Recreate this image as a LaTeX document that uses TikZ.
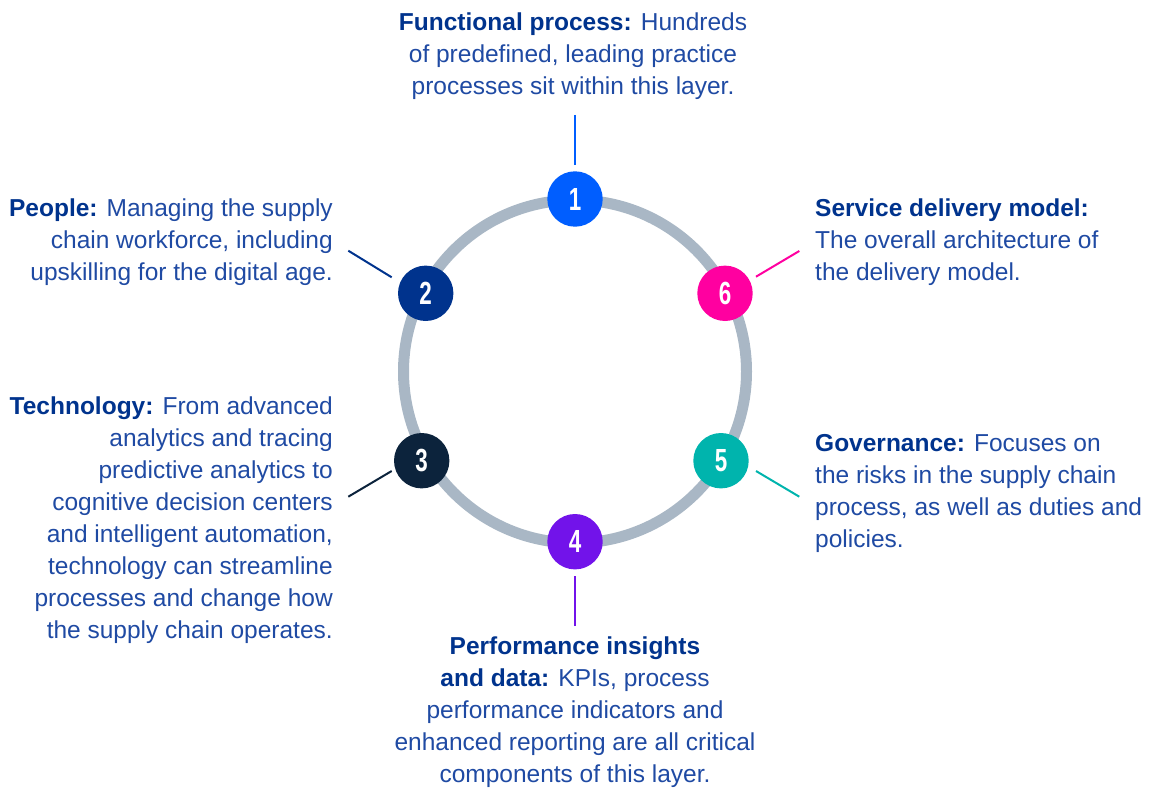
\documentclass[tikz,border=0pt]{standalone}
\usepackage{fontspec}
\usepackage{graphicx}
\setmainfont{Liberation Sans}
\definecolor{txt}{HTML}{1F4AA3}
\definecolor{bld}{HTML}{00338D}
\definecolor{ringc}{HTML}{A9B7C5}
\definecolor{cA}{HTML}{005EFF}
\definecolor{cB}{HTML}{00338D}
\definecolor{cC}{HTML}{0C233C}
\definecolor{cD}{HTML}{7213EA}
\definecolor{cE}{HTML}{00B4AD}
\definecolor{cF}{HTML}{FF00A0}
\tikzset{
  num/.style={circle, fill=#1, minimum size=55.4pt, inner sep=0pt, text=white,
    font=\fontsize{32}{32}\selectfont\bfseries},
  desc/.style={inner sep=0pt, text=txt, font=\fontsize{24.5}{32}\selectfont},
  lead/.style={draw=#1, line width=2pt},
}
\newcommand{\nm}[1]{\scalebox{0.7}[1]{#1}}
\newcommand{\hd}[1]{\textcolor{bld}{\textbf{#1}}}
\begin{document}
\begin{tikzpicture}[x=1pt,y=-1pt]
\useasboundingbox (0,0) rectangle (1153,789);
\draw[ringc, line width=11pt] (575,371.5) circle (171.5pt);
\node[num=cA] (n1) at (575,199) {\nm{1}};
\node[num=cB] (n2) at (425.7,293.3) {\nm{2}};
\node[num=cC] (n3) at (421.7,460.7) {\nm{3}};
\node[num=cD] (n4) at (575,541.7) {\nm{4}};
\node[num=cE] (n5) at (721,460.7) {\nm{5}};
\node[num=cF] (n6) at (725,293.3) {\nm{6}};
% leader end coordinates
\coordinate (a1) at (575,115); \coordinate (b1) at (575,165);
\coordinate (a2) at (348.3,250.7); \coordinate (b2) at (391.7,277.3);
\coordinate (a3) at (348.3,496.7); \coordinate (b3) at (391.7,471);
\coordinate (a4) at (575,626); \coordinate (b4) at (575,576);
\coordinate (a5) at (799.3,496.7); \coordinate (b5) at (756,471);
\coordinate (a6) at (799.3,251); \coordinate (b6) at (756,276.7);
\draw[lead=cA] (a1) -- (b1);
\draw[lead=cB] (a2) -- (b2);
\draw[lead=cC] (a3) -- (b3);
\draw[lead=cD] (a4) -- (b4);
\draw[lead=cE] (a5) -- (b5);
\draw[lead=cF] (a6) -- (b6);
% texts (base anchor = baseline of last line)
\node[desc, align=center, anchor=base] (t1) at (573,95)
  {\hd{Functional process:} Hundreds\\of predefined, leading practice\\processes sit within this layer.};
\node[desc, align=right, anchor=base east] (t2) at (333,280.7)
  {\hd{People:} Managing the supply\\chain workforce, including\\upskilling for the digital age.};
\node[desc, align=right, anchor=base east] (t3) at (333,638.5)
  {\hd{Technology:} From advanced\\analytics and tracing\\predictive analytics to\\cognitive decision centers\\and intelligent automation,\\technology can streamline\\processes and change how\\the supply chain operates.};
\node[desc, align=center, anchor=base] (t4) at (575,782)
  {\hd{Performance insights}\\\hd{and data:} KPIs, process\\performance indicators and\\enhanced reporting are all critical\\components of this layer.};
\node[desc, align=left, anchor=base west] (t5) at (815,547.7)
  {\hd{Governance:} Focuses on\\the risks in the supply chain\\process, as well as duties and\\policies.};
\node[desc, align=left, anchor=base west] (t6) at (815,280.7)
  {\hd{Service delivery model:}\\The overall architecture of\\the delivery model.};
\end{tikzpicture}
\end{document}
